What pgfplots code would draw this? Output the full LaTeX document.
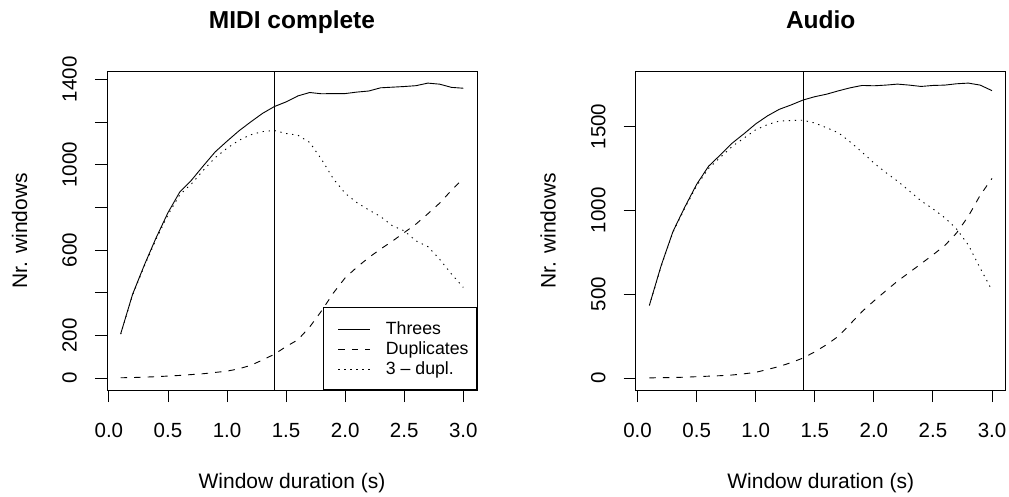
\documentclass[border=0pt]{standalone}
\usepackage{pgfplots}
\usepackage{pgfplotstable}
\pgfplotsset{compat=1.18}
\usepackage{fontspec}
\setmainfont{Liberation Sans}

% window duration, threes, duplicates, threes minus duplicates
\pgfplotstableread{
x    threes dupl diff
0.1  208    2    206
0.2  392    3    389
0.3  530    5    525
0.4  658    7    651
0.5  775    10   765
0.6  872    13   859
0.7  928    17   911
0.8  995    21   974
0.9  1060   27   1033
1.0  1110   33   1077
1.1  1158   44   1114
1.2  1200   60   1140
1.3  1240   85   1155
1.4  1272   112  1160
1.5  1294   148  1146
1.6  1322   180  1138
1.7  1338   240  1104
1.8  1332   315  1025
1.9  1333   399  934
2.0  1333   470  866
2.1  1340   520  822
2.2  1345   565  788
2.3  1360   605  757
2.4  1363   642  714
2.5  1366   682  690
2.6  1370   722  643
2.7  1382   770  616
2.8  1377   820  557
2.9  1362   880  488
3.0  1358   935  425
}\midi

\pgfplotstableread{
x    threes dupl diff
0.1  435    2    433
0.2  672    3    669
0.3  875    4    871
0.4  1020   6    1014
0.5  1155   9    1146
0.6  1262   12   1250
0.7  1330   15   1315
0.8  1400   19   1381
0.9  1456   26   1430
1.0  1515   35   1480
1.1  1563   52   1511
1.2  1602   70   1532
1.3  1628   93   1535
1.4  1657   120  1537
1.5  1677   157  1520
1.6  1692   200  1492
1.7  1712   250  1462
1.8  1730   323  1407
1.9  1744   397  1347
2.0  1742   460  1282
2.1  1746   520  1226
2.2  1752   578  1174
2.3  1746   630  1116
2.4  1738   682  1056
2.5  1744   735  1009
2.6  1746   790  956
2.7  1754   865  889
2.8  1758   965  793
2.9  1746   1090 656
3.0  1713   1190 523
}\audio

\pgfplotsset{
  rpanel/.style={
    scale only axis, width=370pt, height=318.7pt,
    xmin=-0.016, xmax=3.116,
    axis line style={line width=0.9pt},
    every tick/.style={black, line width=0.9pt},
    tick align=outside, xtick pos=bottom, ytick pos=left,
    major tick length=12pt,
    xtick={0,0.5,1,1.5,2,2.5,3},
    xticklabels={0.0,0.5,1.0,1.5,2.0,2.5,3.0},
    /pgf/number format/assume math mode=true,
    ticklabel style={font=\fontsize{20.5}{24}\selectfont, inner sep=0pt},
    xticklabel style={anchor=north},
    yticklabel style={rotate=90, anchor=south},
    xticklabel shift=21pt,
    yticklabel shift=18pt,
    every axis title/.style={at={(axis description cs:0.5,1.135)}, anchor=base,
      font=\bfseries\fontsize{24.5}{29}\selectfont},
    every axis x label/.style={at={(axis description cs:0.5,-0.3075)}, anchor=base,
      font=\fontsize{21}{25}\selectfont},
    every axis y label/.style={at={(axis description cs:-0.2162,0.5)}, rotate=90, anchor=base,
      font=\fontsize{21}{25}\selectfont},
    xlabel={Window duration (s)},
    ylabel={Nr. windows},
    every axis plot/.append style={black, line width=0.9pt},
    threes/.style={solid},
    dupl/.style={dash pattern=on 6.5pt off 7pt},
    diff/.style={dash pattern=on 1.3pt off 4.7pt},
  },
}

\begin{document}
\begin{tikzpicture}[x=1pt,y=1pt]
\path[use as bounding box] (0,0) rectangle (1009,496);

\begin{axis}[rpanel, at={(107pt,106pt)}, anchor=south west,
  title={MIDI complete},
  ymin=-55.3, ymax=1437.3,
  ytick={0,200,400,600,800,1000,1200,1400},
  yticklabels={0,200,,600,,1000,,1400},
  legend style={at={(rel axis cs:1,0)}, anchor=south east, draw=black,
    line width=0.9pt, inner xsep=8pt, inner ysep=11pt,
    font=\fontsize{17.7}{20}\selectfont, column sep=0pt, row sep=0pt,
    cells={anchor=base west},
    nodes={inner sep=0pt, text height=16pt, text depth=4pt}},
  legend image code/.code={\path (0pt,0pt); \draw[#1] (7pt,5.3pt) -- (39pt,5.3pt); \path (54pt,0pt);},
]
\addplot[threes] table[x=x, y=threes] {\midi};
\addplot[dupl] table[x=x, y=dupl] {\midi};
\addplot[diff] table[x=x, y=diff] {\midi};
\addplot[solid, forget plot] coordinates {(1.4,-55.3) (1.4,1437.3)};
\legend{Threes, Duplicates, 3 -- dupl.}
\end{axis}

\begin{axis}[rpanel, at={(635.7pt,106pt)}, anchor=south west,
  title={Audio},
  ymin=-70.3, ymax=1828.3,
  ytick={0,500,1000,1500},
  yticklabels={0,500,1000,1500},
]
\addplot[threes] table[x=x, y=threes] {\audio};
\addplot[dupl] table[x=x, y=dupl] {\audio};
\addplot[diff] table[x=x, y=diff] {\audio};
\addplot[solid] coordinates {(1.4,-70.3) (1.4,1828.3)};
\end{axis}
\end{tikzpicture}
\end{document}
